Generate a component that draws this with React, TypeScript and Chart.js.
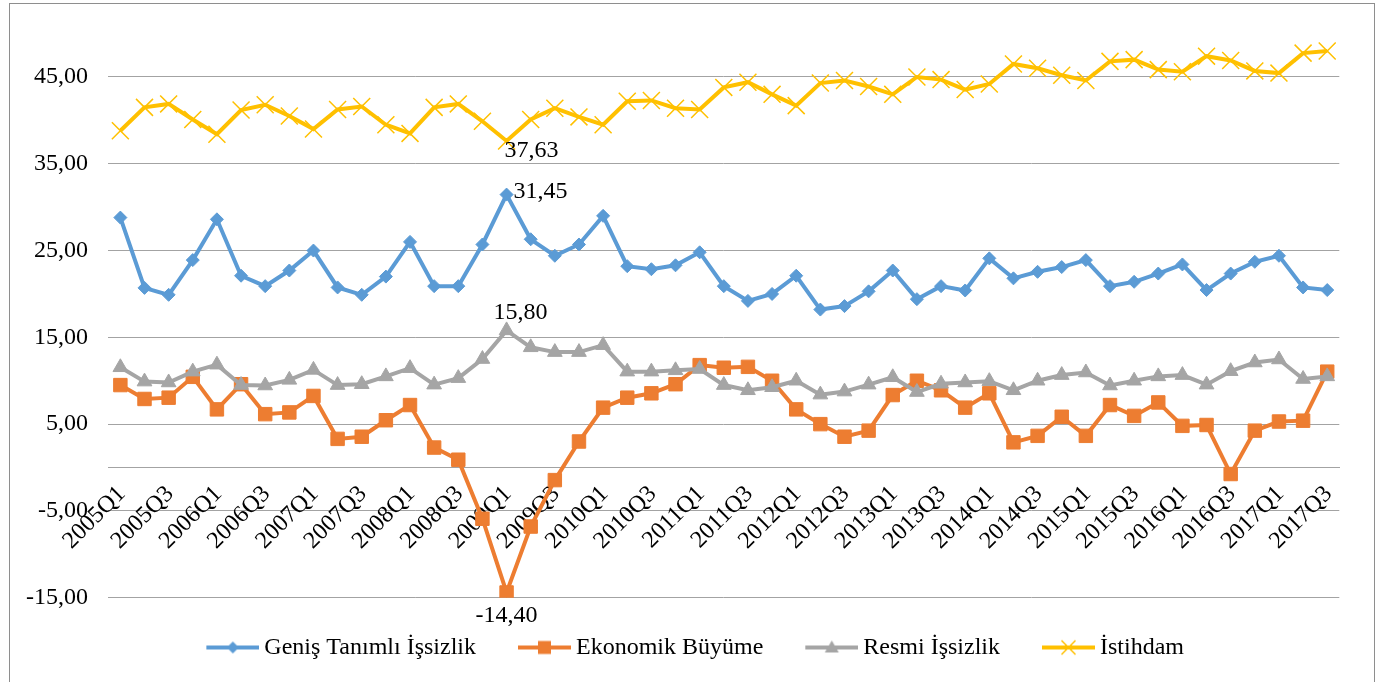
import React, { useEffect, useRef } from 'react';
import { Chart, registerables } from 'chart.js';

Chart.register(...registerables);

const quarters = [
  '2005Q1', '2005Q2', '2005Q3', '2005Q4', '2006Q1', '2006Q2', '2006Q3', '2006Q4',
  '2007Q1', '2007Q2', '2007Q3', '2007Q4', '2008Q1', '2008Q2', '2008Q3', '2008Q4',
  '2009Q1', '2009Q2', '2009Q3', '2009Q4', '2010Q1', '2010Q2', '2010Q3', '2010Q4',
  '2011Q1', '2011Q2', '2011Q3', '2011Q4', '2012Q1', '2012Q2', '2012Q3', '2012Q4',
  '2013Q1', '2013Q2', '2013Q3', '2013Q4', '2014Q1', '2014Q2', '2014Q3', '2014Q4',
  '2015Q1', '2015Q2', '2015Q3', '2015Q4', '2016Q1', '2016Q2', '2016Q3', '2016Q4',
  '2017Q1', '2017Q2', '2017Q3',
];

const genisTanimliIssizlik = [
  28.8, 20.7, 19.9, 23.9, 28.6, 22.1, 20.9, 22.7, 25.0, 20.75,
  19.9, 22.0, 26.0, 20.9, 20.9, 25.7, 31.45, 26.3, 24.4, 25.7,
  29.0, 23.2, 22.85, 23.3, 24.8, 20.9, 19.2, 20.0, 22.1, 18.2,
  18.6, 20.3, 22.7, 19.4, 20.9, 20.4, 24.1, 21.8, 22.55, 23.1,
  23.9, 20.9, 21.4, 22.35, 23.4, 20.45, 22.35, 23.7, 24.4, 20.75, 20.45,
];

const ekonomikBuyume = [
  9.5, 7.9, 8.05, 10.45, 6.7, 9.6, 6.15, 6.35, 8.25, 3.3,
  3.55, 5.45, 7.2, 2.3, 0.9, -5.9, -14.4, -6.8, -1.45, 3.0,
  6.9, 8.05, 8.55, 9.6, 11.8, 11.5, 11.6, 10.0, 6.7, 5.0,
  3.55, 4.25, 8.35, 10.0, 8.9, 6.9, 8.55, 2.9, 3.65, 5.85,
  3.65, 7.2, 5.95, 7.5, 4.8, 4.9, -0.75, 4.25, 5.3, 5.4, 11.05,
];

const resmiIssizlik = [
  11.55, 9.9, 9.8, 11.05, 11.85, 9.5, 9.45, 10.1, 11.25, 9.5,
  9.6, 10.5, 11.45, 9.55, 10.3, 12.5, 15.8, 13.85, 13.3, 13.3,
  14.1, 11.05, 11.05, 11.2, 11.35, 9.5, 8.9, 9.25, 10.0, 8.4,
  8.75, 9.55, 10.4, 8.7, 9.65, 9.8, 9.95, 8.9, 10.0, 10.65,
  10.95, 9.45, 10.0, 10.5, 10.65, 9.55, 11.1, 12.1, 12.45, 10.2, 10.5,
];

const istihdam = [
  38.8, 41.5, 41.9, 40.1, 38.4, 41.2, 41.8, 40.5, 39.0, 41.25,
  41.6, 39.5, 38.5, 41.5, 41.9, 39.9, 37.63, 40.1, 41.4, 40.4,
  39.5, 42.2, 42.3, 41.4, 41.25, 43.8, 44.4, 43.0, 41.7, 44.3,
  44.6, 43.9, 43.0, 45.0, 44.7, 43.55, 44.2, 46.5, 46.0, 45.2,
  44.6, 46.8, 47.0, 45.85, 45.6, 47.4, 46.9, 45.7, 45.45, 47.75, 48.0,
];

const yTickValues = [-15, -5, 5, 15, 25, 35, 45];

const seriesNames = ['Geniş Tanımlı İşsizlik', 'Ekonomik Büyüme', 'Resmi İşsizlik', 'İstihdam'];
const seriesColors = ['#5B9BD5', '#ED7D31', '#A5A5A5', '#FFC000'];

const FONT = "'Liberation Serif', 'Times New Roman', Times, serif";
const GRID = '#a3a3a3';

const fmt = (v: number) => v.toFixed(2).replace('.', ',');

function makeLegendIcon(kind: string, color: string): HTMLCanvasElement {
  const c = document.createElement('canvas');
  c.width = 102;
  c.height = 24;
  const g = c.getContext('2d')!;
  const y = 12;
  g.strokeStyle = color;
  g.lineWidth = 4;
  g.beginPath();
  g.moveTo(49, y);
  g.lineTo(102, y);
  g.stroke();
  const cx = 75.5;
  g.fillStyle = color;
  g.beginPath();
  if (kind === 'diamond') {
    g.moveTo(cx, y - 6);
    g.lineTo(cx + 6, y);
    g.lineTo(cx, y + 6);
    g.lineTo(cx - 6, y);
    g.closePath();
    g.fill();
  } else if (kind === 'square') {
    g.rect(cx - 6.5, y - 6.5, 13, 13);
    g.fill();
  } else if (kind === 'triangle') {
    g.moveTo(cx, y - 7);
    g.lineTo(cx + 7, y + 5);
    g.lineTo(cx - 7, y + 5);
    g.closePath();
    g.fill();
  } else {
    g.lineWidth = 1.5;
    g.moveTo(cx - 7, y - 7);
    g.lineTo(cx + 7, y + 7);
    g.moveTo(cx + 7, y - 7);
    g.lineTo(cx - 7, y + 7);
    g.stroke();
  }
  return c;
}

const dataLabelPlugin = {
  id: 'dataLabels',
  afterDatasetsDraw(chart: any) {
    const ctx = chart.ctx;
    const specs = [
      { ds: 0, idx: 16, dx: 7, dy: -3, align: 'left' },
      { ds: 1, idx: 16, dx: 0, dy: 23, align: 'center' },
      { ds: 2, idx: 16, dx: 14, dy: -18, align: 'center' },
      { ds: 3, idx: 16, dx: -2, dy: 10, align: 'left' },
    ];
    ctx.save();
    ctx.font = `24px ${FONT}`;
    ctx.fillStyle = '#000';
    ctx.textBaseline = 'middle';
    for (const s of specs) {
      const el = chart.getDatasetMeta(s.ds).data[s.idx];
      const v = chart.data.datasets[s.ds].data[s.idx] as number;
      ctx.textAlign = s.align;
      ctx.fillText(fmt(v), el.x + s.dx, el.y + s.dy);
    }
    ctx.restore();
  },
};

export default function App() {
  const ref = useRef<HTMLCanvasElement | null>(null);

  useEffect(() => {
    if (!ref.current) return;
    const iconKinds = ['diamond', 'square', 'triangle', 'cross'];
    const icons = iconKinds.map((k, i) => makeLegendIcon(k, seriesColors[i]));
    const values = [genisTanimliIssizlik, ekonomikBuyume, resmiIssizlik, istihdam];
    const pointStyles = ['rectRot', 'rect', 'triangle', 'crossRot'];
    const radii = [6.5, 9.5, 8.5, 12];

    const chart = new Chart(ref.current, {
      type: 'line',
      data: {
        labels: quarters,
        datasets: values.map((vals, i) => ({
          label: seriesNames[i],
          data: vals,
          borderColor: seriesColors[i],
          backgroundColor: seriesColors[i],
          borderWidth: 4,
          pointStyle: pointStyles[i],
          pointRadius: radii[i],
          pointHoverRadius: radii[i],
          pointBorderWidth: i === 3 ? 1.5 : 1,
          pointBackgroundColor: seriesColors[i],
          pointBorderColor: seriesColors[i],
          tension: 0,
          fill: false,
          order: 4 - i,
        })),
      },
      options: {
        responsive: false,
        animation: false,
        devicePixelRatio: 1,
        layout: { padding: { left: 0, top: 30.6, right: 34.7, bottom: 12.5 } },
        plugins: {
          tooltip: { enabled: false },
          legend: {
            position: 'bottom',
            title: { display: true, text: '', font: { size: 10 }, padding: { top: 25.8, bottom: 0 } },
            labels: {
              usePointStyle: true,
              pointStyleWidth: 88,
              padding: 0,
              color: '#000',
              font: { family: FONT, size: 24 },
              generateLabels: () =>
                seriesNames.map((name, i) => ({
                  text: name,
                  pointStyle: icons[i],
                  fillStyle: seriesColors[i],
                  strokeStyle: seriesColors[i],
                  lineWidth: 0,
                  hidden: false,
                  datasetIndex: i,
                  fontColor: '#000',
                })),
            },
          },
        },
        scales: {
          x: {
            type: 'category',
            position: { y: 0 } as any,
            offset: true,
            grid: { display: true, color: 'rgba(0,0,0,0)', drawTicks: false, drawOnChartArea: false },
            border: { display: true, color: GRID, width: 1 },
            ticks: {
              autoSkip: false,
              minRotation: 45,
              maxRotation: 45,
              padding: 12.6,
              labelOffset: 1.3,
              color: '#000',
              font: { family: FONT, size: 24 },
              callback: (_v: any, idx: number) => (idx % 2 === 0 ? quarters[idx] : ''),
            },
          },
          y: {
            min: -15,
            max: 50,
            afterBuildTicks: (scale: any) => {
              scale.ticks = yTickValues.map((v) => ({ value: v }));
            },
            afterFit: (scale: any) => {
              scale.width = 99.3;
            },
            grid: {
              color: GRID,
              lineWidth: 1,
              drawTicks: true,
              tickLength: 20.3,
              tickColor: 'rgba(0,0,0,0)',
            },
            border: { display: false },
            ticks: {
              padding: 0,
              color: '#000',
              font: { family: FONT, size: 24 },
              callback: (v: any) => fmt(Number(v)),
            },
          },
        },
      },
      plugins: [dataLabelPlugin],
    });
    return () => chart.destroy();
  }, []);

  return (
    <div
      style={{
        position: 'absolute',
        left: 0,
        top: 0,
        width: 1377,
        height: 682,
        overflow: 'hidden',
        background: '#fff',
      }}
    >
      <div
        style={{
          position: 'absolute',
          left: 9,
          top: 3,
          width: 1366,
          height: 720,
          boxSizing: 'border-box',
          border: '1px solid #8e8e8e',
        }}
      />
      <canvas
        ref={ref}
        width={1365}
        height={679}
        style={{ position: 'absolute', left: 9, top: 3, width: 1365, height: 679 }}
      />
    </div>
  );
}
